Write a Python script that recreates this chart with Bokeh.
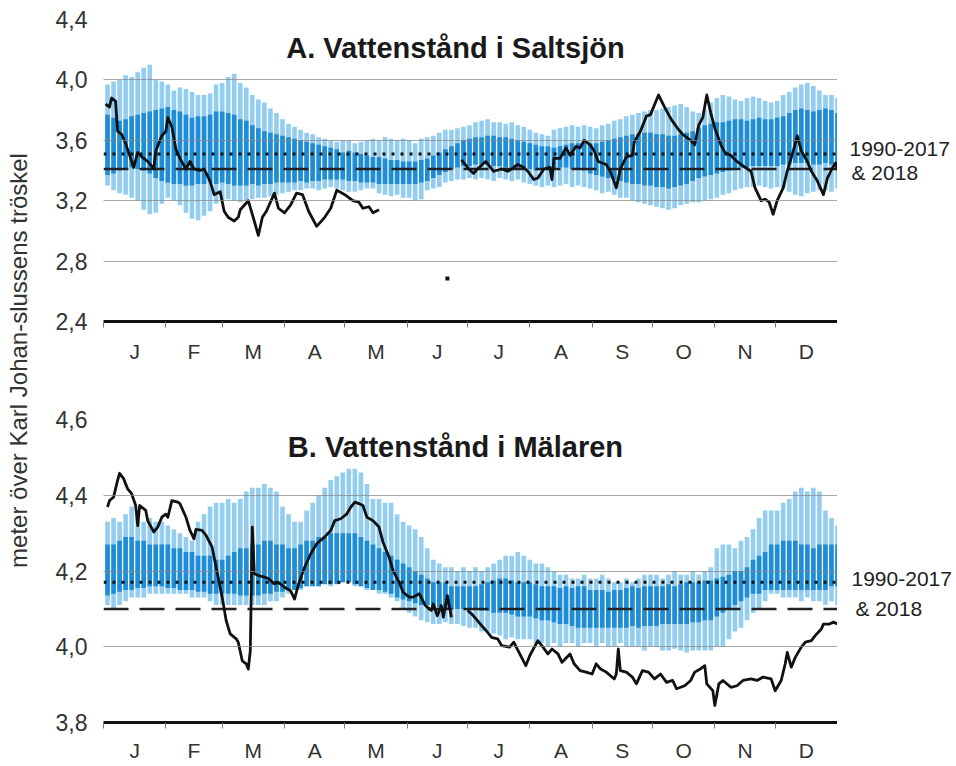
import numpy as np
from bokeh.plotting import figure
from bokeh.layouts import row, column
from bokeh.models import Range1d, FixedTicker, CustomJSTickFormatter, Label
from bokeh.embed import file_html
from bokeh.resources import INLINE
from bokeh.core.properties import value

NAN = float("nan")
FONT = "Liberation Sans"
LIGHT = "#93cdef"
DARK = "#1f8dd6"
INK = "#222222"

# ---- calendar -------------------------------------------------------------
MONTHS = ["J", "F", "M", "A", "M", "J", "J", "A", "S", "O", "N", "D"]
MONTH_STARTS = [0, 31, 59, 90, 120, 151, 181, 212, 243, 273, 304, 334, 365]

# day of year for each statistics bar (every third day)
STAT_DAYS = list(range(2, 366, 3))

# ---- A. Saltsjön, 1990-2017 statistics (m) ---------------------------------
SALT_MAX = [
    3.97, 3.99, 4.00, 4.03, 4.02, 4.05, 4.08, 4.10, 4.00, 3.99,
    3.97, 3.93, 3.95, 3.94, 3.92, 3.90, 3.90, 3.91, 3.97, 3.98,
    4.02, 4.04, 3.98, 3.95, 3.90, 3.87, 3.85, 3.81, 3.78, 3.74,
    3.71, 3.69, 3.67, 3.65, 3.64, 3.62, 3.61, 3.60, 3.59, 3.60,
    3.60, 3.58, 3.59, 3.60, 3.61, 3.60, 3.62, 3.61, 3.60, 3.61,
    3.60, 3.58, 3.61, 3.62, 3.63, 3.65, 3.67, 3.67, 3.68, 3.69,
    3.70, 3.72, 3.73, 3.74, 3.72, 3.72, 3.71, 3.72, 3.70, 3.69,
    3.67, 3.65, 3.64, 3.63, 3.67, 3.68, 3.69, 3.70, 3.69, 3.70,
    3.69, 3.68, 3.70, 3.71, 3.73, 3.74, 3.76, 3.77, 3.78, 3.79,
    3.80, 3.80, 3.81, 3.82, 3.83, 3.84, 3.82, 3.79, 3.78, 3.80,
    3.85, 3.88, 3.90, 3.89, 3.87, 3.86, 3.88, 3.89, 3.88, 3.86,
    3.85, 3.86, 3.90, 3.92, 3.95, 3.97, 3.98, 3.96, 3.93, 3.90,
    3.90, 3.88,
]
SALT_MIN = [
    3.30, 3.27, 3.25, 3.24, 3.22, 3.20, 3.14, 3.11, 3.12, 3.18,
    3.22, 3.20, 3.17, 3.12, 3.08, 3.07, 3.10, 3.13, 3.18, 3.20,
    3.21, 3.20, 3.19, 3.20, 3.21, 3.22, 3.22, 3.23, 3.24, 3.25,
    3.26, 3.27, 3.27, 3.28, 3.28, 3.27, 3.28, 3.29, 3.28, 3.27,
    3.26, 3.26, 3.27, 3.28, 3.28, 3.25, 3.24, 3.23, 3.24, 3.22,
    3.22, 3.20, 3.21, 3.27, 3.28, 3.29, 3.32, 3.33, 3.34, 3.34,
    3.35, 3.34, 3.35, 3.34, 3.33, 3.35, 3.34, 3.33, 3.34, 3.32,
    3.31, 3.30, 3.29, 3.30, 3.29, 3.30, 3.31, 3.29, 3.30, 3.29,
    3.28, 3.27, 3.25, 3.26, 3.24, 3.22, 3.22, 3.20, 3.19, 3.18,
    3.17, 3.16, 3.15, 3.14, 3.15, 3.17, 3.18, 3.19, 3.19, 3.20,
    3.21, 3.22, 3.24, 3.25, 3.27, 3.28, 3.29, 3.29, 3.30, 3.29,
    3.28, 3.29, 3.28, 3.26, 3.24, 3.23, 3.25, 3.26, 3.27, 3.27,
    3.26, 3.28,
]
SALT_HI = [
    3.77, 3.75, 3.73, 3.74, 3.76, 3.77, 3.78, 3.79, 3.80, 3.81,
    3.82, 3.80, 3.79, 3.77, 3.75, 3.76, 3.76, 3.77, 3.79, 3.79,
    3.78, 3.77, 3.74, 3.73, 3.70, 3.68, 3.66, 3.65, 3.64, 3.63,
    3.62, 3.61, 3.60, 3.59, 3.58, 3.57, 3.56, 3.55, 3.54, 3.52,
    3.53, 3.52, 3.51, 3.50, 3.49, 3.49, 3.48, 3.47, 3.47, 3.46,
    3.46, 3.46, 3.47, 3.48, 3.50, 3.52, 3.54, 3.56, 3.58, 3.60,
    3.61, 3.62, 3.62, 3.63, 3.63, 3.62, 3.62, 3.61, 3.60, 3.59,
    3.58, 3.57, 3.56, 3.56, 3.55, 3.56, 3.57, 3.58, 3.58, 3.59,
    3.58, 3.58, 3.59, 3.60, 3.61, 3.62, 3.63, 3.64, 3.64, 3.65,
    3.65, 3.64, 3.64, 3.63, 3.63, 3.64, 3.65, 3.66, 3.68, 3.70,
    3.71, 3.72, 3.72, 3.73, 3.74, 3.74, 3.73, 3.74, 3.75, 3.74,
    3.74, 3.75, 3.76, 3.78, 3.80, 3.81, 3.80, 3.79, 3.80, 3.81,
    3.80, 3.78,
]
SALT_LO = [
    3.37, 3.38, 3.40, 3.41, 3.42, 3.41, 3.40, 3.38, 3.35, 3.33,
    3.32, 3.31, 3.31, 3.30, 3.30, 3.31, 3.31, 3.32, 3.31, 3.32,
    3.31, 3.30, 3.30, 3.30, 3.31, 3.30, 3.31, 3.31, 3.32, 3.32,
    3.32, 3.32, 3.33, 3.32, 3.33, 3.33, 3.34, 3.34, 3.34, 3.34,
    3.33, 3.33, 3.32, 3.32, 3.32, 3.31, 3.31, 3.31, 3.31, 3.31,
    3.31, 3.31, 3.32, 3.33, 3.35, 3.37, 3.39, 3.41, 3.42, 3.43,
    3.43, 3.44, 3.44, 3.44, 3.43, 3.43, 3.42, 3.42, 3.41, 3.41,
    3.41, 3.40, 3.40, 3.41, 3.41, 3.42, 3.42, 3.41, 3.41, 3.40,
    3.38, 3.37, 3.36, 3.35, 3.34, 3.33, 3.32, 3.31, 3.31, 3.30,
    3.30, 3.29, 3.29, 3.28, 3.29, 3.30, 3.31, 3.33, 3.35, 3.36,
    3.37, 3.38, 3.39, 3.40, 3.41, 3.42, 3.42, 3.43, 3.43, 3.43,
    3.43, 3.43, 3.44, 3.44, 3.45, 3.45, 3.45, 3.44, 3.44, 3.45,
    3.44, 3.43,
]
SALT_MEAN_1990_2017 = 3.51
SALT_MEAN_2018 = 3.41

# ---- A. Saltsjön, daily level 2018 (m); nan = missing ----------------------
SALT_2018_DAYS = [
    1, 3, 4, 6, 7, 9, 11, 13, 15, 17, 19, 22, 25, 26, 29, 31, 32, 34, 36, 38,
    41, 43, 45, 48, 50, 53, 55, 58, 60, 62, 65, 67, 68, 72, 74, 77, 79, 81, 85, 87,
    90, 93, 96, 99, 102, 106, 110, 113, 116, 120, 122, 124, 127, 129, 132, 134, 137,
    150, 171, 175,
    178, 181, 184, 186, 190, 194, 198, 201, 204, 206, 209, 211, 214, 216, 219, 222,
    223, 224, 227, 230, 232, 235, 237, 239, 242, 244, 246, 250, 252, 255, 257, 260,
    263, 264, 267, 270, 272, 274, 276, 279, 281, 283, 286, 288, 292, 294, 296, 298,
    300, 302, 304, 307, 309, 312, 315, 318, 322, 324, 327, 329, 331, 333, 335, 338,
    340, 343, 345, 347, 350, 352, 355, 358, 360, 362, 364, 365,
]
SALT_2018 = [
    3.84, 3.82, 3.88, 3.86, 3.66, 3.64, 3.58, 3.50, 3.42, 3.52, 3.49, 3.46, 3.41, 3.53, 3.63, 3.66, 3.75, 3.69, 3.54, 3.48,
    3.41, 3.46, 3.41, 3.40, 3.41, 3.33, 3.24, 3.26, 3.13, 3.09, 3.065, 3.09, 3.14, 3.20, 3.11, 2.97, 3.09, 3.13, 3.25, 3.15,
    3.12, 3.17, 3.25, 3.24, 3.13, 3.03, 3.09, 3.15, 3.27, 3.24, 3.22, 3.20, 3.19, 3.15, 3.16, 3.12, 3.14,
    NAN, 2.685, NAN,
    3.47, 3.42, 3.38, 3.41, 3.46, 3.395, 3.41, 3.395, 3.42, 3.44, 3.42, 3.395, 3.34, 3.35, 3.41, 3.42,
    3.34, 3.48, 3.48, 3.55, 3.50, 3.56, 3.55, 3.60, 3.57, 3.53, 3.46, 3.44, 3.395, 3.285, 3.41, 3.49,
    3.50, 3.59, 3.66, 3.76, 3.77, 3.835, 3.90, 3.82, 3.77, 3.725, 3.67, 3.64, 3.60, 3.57, 3.70, 3.75,
    3.90, 3.78, 3.68, 3.57, 3.52, 3.50, 3.46, 3.43, 3.395, 3.285, 3.20, 3.21, 3.19, 3.11, 3.20, 3.285,
    3.395, 3.53, 3.63, 3.53, 3.46, 3.395, 3.33, 3.24, 3.35, 3.405, 3.45, 3.405,
]

# ---- B. Mälaren, 1990-2017 statistics (m) ----------------------------------
MAL_MAX = [
    4.33, 4.34, 4.33, 4.35, 4.37, 4.34, 4.33, 4.34, 4.33, 4.33,
    4.32, 4.31, 4.30, 4.29, 4.28, 4.33, 4.35, 4.37, 4.38, 4.38,
    4.39, 4.38, 4.39, 4.41, 4.42, 4.42, 4.43, 4.42, 4.41, 4.37,
    4.35, 4.33, 4.33, 4.36, 4.38, 4.40, 4.42, 4.44, 4.45, 4.46,
    4.47, 4.47, 4.46, 4.43, 4.39, 4.39, 4.38, 4.38, 4.35, 4.33,
    4.32, 4.31, 4.29, 4.26, 4.23, 4.22, 4.21, 4.21, 4.20, 4.21,
    4.20, 4.21, 4.20, 4.21, 4.22, 4.23, 4.24, 4.24, 4.25, 4.24,
    4.23, 4.22, 4.22, 4.21, 4.20, 4.19, 4.19, 4.18, 4.18, 4.19,
    4.18, 4.18, 4.19, 4.18, 4.17, 4.17, 4.18, 4.17, 4.18, 4.19,
    4.19, 4.19, 4.18, 4.19, 4.20, 4.19, 4.19, 4.20, 4.19, 4.20,
    4.21, 4.26, 4.27, 4.27, 4.26, 4.28, 4.29, 4.31, 4.34, 4.36,
    4.36, 4.36, 4.38, 4.39, 4.41, 4.42, 4.41, 4.42, 4.41, 4.36,
    4.34, 4.32,
]
MAL_MIN = [
    4.11, 4.10, 4.11, 4.12, 4.13, 4.13, 4.13, 4.14, 4.14, 4.14,
    4.14, 4.14, 4.14, 4.14, 4.13, 4.13, 4.13, 4.12, 4.11, 4.11,
    4.11, 4.11, 4.11, 4.11, 4.11, 4.11, 4.11, 4.12, 4.12, 4.13,
    4.14, 4.15, 4.15, 4.16, 4.16, 4.16, 4.17, 4.16, 4.17, 4.17,
    4.17, 4.16, 4.16, 4.15, 4.15, 4.14, 4.14, 4.13, 4.12, 4.10,
    4.09, 4.08, 4.07, 4.065, 4.06, 4.06, 4.065, 4.06, 4.06, 4.055,
    4.05, 4.05, 4.04, 4.04, 4.035, 4.03, 4.02, 4.025, 4.02, 4.02,
    4.02, 4.01, 4.01, 4.00, 4.01, 4.00, 4.01, 4.01, 4.00, 4.01,
    4.01, 4.00, 4.01, 4.00, 4.00, 4.01, 4.00, 4.00, 4.00, 3.99,
    4.00, 4.00, 3.99, 3.99, 3.995, 3.99, 3.985, 3.99, 3.99, 3.99,
    3.99, 4.00, 4.00, 4.02, 4.04, 4.05, 4.07, 4.09, 4.10, 4.12,
    4.14, 4.14, 4.13, 4.13, 4.13, 4.12, 4.13, 4.12, 4.12, 4.11,
    4.12, 4.11,
]
MAL_HI = [
    4.27, 4.27, 4.28, 4.29, 4.29, 4.28, 4.28, 4.27, 4.27, 4.27,
    4.27, 4.26, 4.26, 4.25, 4.25, 4.24, 4.24, 4.24, 4.23, 4.23,
    4.24, 4.25, 4.26, 4.26, 4.27, 4.27, 4.28, 4.28, 4.27, 4.27,
    4.26, 4.26, 4.27, 4.28, 4.28, 4.29, 4.29, 4.30, 4.30, 4.30,
    4.30, 4.30, 4.29, 4.28, 4.27, 4.26, 4.25, 4.24, 4.23, 4.22,
    4.21, 4.20, 4.19, 4.18, 4.17, 4.17, 4.17, 4.16, 4.16, 4.16,
    4.16, 4.16, 4.165, 4.17, 4.175, 4.18, 4.18, 4.175, 4.17, 4.17,
    4.17, 4.165, 4.16, 4.16, 4.16, 4.155, 4.16, 4.155, 4.16, 4.16,
    4.15, 4.15, 4.15, 4.145, 4.15, 4.15, 4.155, 4.16, 4.155, 4.16,
    4.16, 4.16, 4.16, 4.165, 4.16, 4.165, 4.17, 4.17, 4.17, 4.175,
    4.175, 4.18, 4.185, 4.19, 4.20, 4.20, 4.21, 4.23, 4.24, 4.25,
    4.27, 4.27, 4.28, 4.28, 4.28, 4.27, 4.27, 4.26, 4.27, 4.27,
    4.27, 4.27,
]
MAL_LO = [
    4.135, 4.14, 4.145, 4.15, 4.15, 4.155, 4.155, 4.16, 4.16, 4.16,
    4.155, 4.155, 4.15, 4.15, 4.15, 4.145, 4.145, 4.14, 4.14, 4.14,
    4.14, 4.14, 4.135, 4.135, 4.135, 4.135, 4.14, 4.14, 4.145, 4.145,
    4.15, 4.15, 4.155, 4.16, 4.16, 4.16, 4.165, 4.165, 4.165, 4.17,
    4.17, 4.165, 4.16, 4.155, 4.15, 4.15, 4.145, 4.14, 4.13, 4.125,
    4.12, 4.115, 4.11, 4.11, 4.105, 4.105, 4.10, 4.10, 4.10, 4.10,
    4.10, 4.10, 4.095, 4.095, 4.09, 4.09, 4.09, 4.085, 4.08, 4.08,
    4.08, 4.075, 4.07, 4.07, 4.065, 4.06, 4.06, 4.055, 4.05, 4.05,
    4.05, 4.05, 4.05, 4.05, 4.05, 4.05, 4.05, 4.055, 4.05, 4.055,
    4.055, 4.055, 4.06, 4.06, 4.06, 4.06, 4.06, 4.065, 4.065, 4.07,
    4.07, 4.08, 4.09, 4.10, 4.11, 4.12, 4.13, 4.14, 4.14, 4.15,
    4.15, 4.15, 4.15, 4.15, 4.15, 4.15, 4.15, 4.15, 4.15, 4.15,
    4.16, 4.16,
]
MAL_MEAN_1990_2017 = 4.17
MAL_MEAN_2018 = 4.10

# ---- B. Mälaren, daily level 2018 (m); nan = missing -----------------------
MAL_2018_DAYS = [
    2, 3, 5, 7, 8, 10, 11, 12, 14, 16, 17, 18, 21, 22, 25, 27, 29, 31, 32, 34,
    37, 38, 41, 43, 45, 46, 49, 51, 54, 56, 59, 61, 63, 66, 67, 69, 71, 72, 73, 74,
    75, 77, 80, 82, 85, 87, 90, 93, 95, 97, 100, 103, 106, 110, 113, 115, 118, 121, 123, 125,
    127, 129, 131, 134, 137, 139, 142, 144, 147, 149, 152, 154, 157, 160, 163, 164, 166, 168, 169, 171,
    173, 177,
    181, 183, 186, 188, 191, 193, 196, 198, 202, 204, 207, 210, 212, 216, 218, 221, 223, 226, 228, 232,
    234, 237, 240, 243, 245, 247, 250, 254, 255, 256, 257, 260, 263, 265, 268, 271, 274, 277, 280, 283,
    285, 289, 292, 294, 297, 299, 300, 303, 304, 306, 308, 312, 315, 318, 322, 325, 328, 332, 334, 337,
    339, 340, 342, 344, 347, 349, 352, 354, 357, 358, 361, 363, 365,
]
MAL_2018 = [
    4.369, 4.386, 4.395, 4.439, 4.458, 4.444, 4.430, 4.417, 4.404, 4.373, 4.320, 4.373, 4.360, 4.333, 4.303, 4.316, 4.342, 4.350, 4.342, 4.386,
    4.382, 4.378, 4.342, 4.307, 4.285, 4.310, 4.307, 4.294, 4.263, 4.210, 4.131, 4.069, 4.034, 4.021, 4.012, 3.963, 3.955, 3.941, 3.990, 4.316,
    4.193, 4.188, 4.184, 4.180, 4.166, 4.170, 4.157, 4.148, 4.126, 4.166, 4.210, 4.245, 4.272, 4.290, 4.307, 4.333, 4.338, 4.351, 4.369, 4.382,
    4.378, 4.373, 4.342, 4.333, 4.316, 4.276, 4.237, 4.201, 4.170, 4.144, 4.131, 4.131, 4.140, 4.109, 4.096, 4.113, 4.082, 4.109, 4.078, 4.135,
    4.078, NAN,
    4.096, 4.087, 4.069, 4.056, 4.038, 4.025, 4.021, 4.003, 3.999, 4.012, 3.981, 3.950, 3.977, 4.016, 4.003, 3.981, 3.994, 3.981, 3.959, 3.981,
    3.955, 3.937, 3.933, 3.928, 3.955, 3.942, 3.933, 3.915, 3.928, 3.994, 3.937, 3.933, 3.920, 3.902, 3.937, 3.933, 3.915, 3.928, 3.906, 3.911,
    3.889, 3.897, 3.911, 3.933, 3.942, 3.950, 3.902, 3.884, 3.845, 3.902, 3.911, 3.893, 3.897, 3.911, 3.915, 3.911, 3.920, 3.915, 3.884, 3.911,
    3.955, 3.985, 3.946, 3.972, 3.999, 4.012, 4.016, 4.030, 4.047, 4.060, 4.060, 4.065, 4.060,
]

LABEL_W = 40       # strip holding the shared vertical axis title
NOTE_W = 119       # strip holding the period notes at the right
PANEL_W = 956 - LABEL_W - NOTE_W
PANEL_H = 383


def make_panel(title, y_lo, y_hi, y_ticks, stats, mean_ref, mean_2018, days, level,
               border_top, border_bottom, title_y, standoff):
    p = figure(width=PANEL_W, height=PANEL_H,
               x_range=Range1d(0, 365), y_range=Range1d(y_lo, y_hi),
               output_backend="svg", toolbar_location=None,
               min_border_left=63, min_border_right=0,
               min_border_top=border_top, min_border_bottom=border_bottom)
    p.outline_line_color = None
    p.background_fill_color = "white"
    p.border_fill_color = "white"

    vmax, vmin, vhi, vlo = stats
    # full range and central band for every bar day
    p.vbar(x=STAT_DAYS, width=2.3, bottom=vmin, top=vmax,
           fill_color=LIGHT, line_color=None)
    p.vbar(x=STAT_DAYS, width=2.3, bottom=vlo, top=vhi,
           fill_color=DARK, line_color=None)

    # long-term and 2018 means
    p.line(x=[0, 365], y=[mean_ref, mean_ref], line_color="#111111",
           line_width=3, line_dash="3 6")
    p.line(x=[0, 365], y=[mean_2018, mean_2018], line_color="#222222",
           line_width=2.5, line_dash="25 11")

    # 2018 daily level
    d = np.array(days, dtype=float)
    v = np.array(level, dtype=float)
    p.line(x=d, y=v, line_color="#111111", line_width=2.8, line_join="round")
    fin = np.isfinite(v)
    prev_nan = np.concatenate([[True], ~fin[:-1]])
    next_nan = np.concatenate([~fin[1:], [True]])
    lone = fin & prev_nan & next_nan
    if lone.any():
        p.scatter(x=d[lone], y=v[lone], marker="square", size=4,
                  fill_color="#111111", line_color=None)

    # axes
    mids = [(a + b) / 2 for a, b in zip(MONTH_STARTS[:-1], MONTH_STARTS[1:])]
    xa = p.xaxis[0]
    xa.ticker = FixedTicker(ticks=mids, minor_ticks=MONTH_STARTS)
    xa.formatter = CustomJSTickFormatter(
        args=dict(mids=mids, names=MONTHS),
        code="const i = mids.indexOf(tick); return i >= 0 ? names[i] : '';")
    xa.axis_line_color = "#111111"
    xa.axis_line_width = 3
    xa.major_tick_in = 0
    xa.major_tick_out = 0
    xa.minor_tick_in = 0
    xa.minor_tick_out = 6
    xa.minor_tick_line_color = "#777777"
    xa.major_label_standoff = standoff
    xa.major_label_text_font = FONT
    xa.major_label_text_font_size = "21px"
    xa.major_label_text_color = "#333333"

    ya = p.yaxis[0]
    ya.ticker = FixedTicker(ticks=y_ticks)
    ya.formatter = CustomJSTickFormatter(code="return tick.toFixed(1).replace('.', ',');")
    ya.axis_line_color = None
    ya.major_tick_in = 0
    ya.major_tick_out = 0
    ya.minor_tick_line_color = None
    ya.major_label_standoff = 16
    ya.major_label_text_font = FONT
    ya.major_label_text_font_size = "23px"
    ya.major_label_text_color = "#333333"

    # horizontal grid, drawn faintly over the bars
    p.xgrid.visible = False
    p.ygrid.ticker = FixedTicker(ticks=y_ticks)
    p.ygrid.grid_line_color = "#8a8a8a"
    p.ygrid.grid_line_alpha = 0.75
    p.ygrid.grid_line_width = 1
    p.ygrid.level = "annotation"

    p.add_layout(Label(x=175, y=title_y, text=title, text_font=FONT,
                       text_font_style="bold", text_font_size="29px",
                       text_color="#1a1a1a", text_align="center",
                       text_baseline="middle"))
    return p


def make_notes(lines):
    # narrow strip to the right of a panel; coordinates are pixels from its bottom
    s = figure(width=NOTE_W, height=PANEL_H,
               x_range=Range1d(0, NOTE_W), y_range=Range1d(0, PANEL_H),
               output_backend="svg", toolbar_location=None,
               x_axis_type=None, y_axis_type=None,
               min_border_left=0, min_border_right=0,
               min_border_top=0, min_border_bottom=0)
    s.outline_line_color = None
    s.grid.visible = False
    s.text(x=[ln[0] for ln in lines], y=[ln[1] for ln in lines],
           text=[ln[2] for ln in lines], text_align="left", text_baseline="middle",
           text_font=value(FONT), text_font_size="21px", text_color=INK)
    return s


p_salt = make_panel("A. Vattenstånd i Saltsjön", 2.4, 4.4,
                    [2.4, 2.8, 3.2, 3.6, 4.0, 4.4],
                    (SALT_MAX, SALT_MIN, SALT_HI, SALT_LO),
                    SALT_MEAN_1990_2017, SALT_MEAN_2018,
                    SALT_2018_DAYS, SALT_2018,
                    border_top=19, border_bottom=62, title_y=4.21, standoff=12)

p_mal = make_panel("B. Vattenstånd i Mälaren", 3.8, 4.6,
                   [3.8, 4.0, 4.2, 4.4, 4.6],
                   (MAL_MAX, MAL_MIN, MAL_HI, MAL_LO),
                   MAL_MEAN_1990_2017, MAL_MEAN_2018,
                   MAL_2018_DAYS, MAL_2018,
                   border_top=36, border_bottom=44, title_y=4.527, standoff=10)

n_salt = make_notes([(12, PANEL_H - 148, "1990-2017"), (14, PANEL_H - 172, "& 2018")])
n_mal = make_notes([(14, PANEL_H - 195, "1990-2017"), (18, PANEL_H - 225, "& 2018")])

# shared vertical axis title in its own narrow strip
p_lab = figure(width=LABEL_W, height=2 * PANEL_H,
               x_range=Range1d(0, LABEL_W), y_range=Range1d(0, 2 * PANEL_H),
               output_backend="svg", toolbar_location=None,
               x_axis_type=None, y_axis_type=None,
               min_border_left=0, min_border_right=0,
               min_border_top=0, min_border_bottom=0)
p_lab.outline_line_color = None
p_lab.grid.visible = False
p_lab.text(x=[18], y=[2 * PANEL_H - 360], text=["meter över Karl Johan-slussens tröskel"],
           angle=np.pi / 2, text_align="center", text_baseline="middle",
           text_font=value(FONT), text_font_size="24px", text_color="#333333")

layout = row(p_lab, column(p_salt, p_mal), column(n_salt, n_mal))

open("out.html", "w").write(file_html(layout, INLINE))
